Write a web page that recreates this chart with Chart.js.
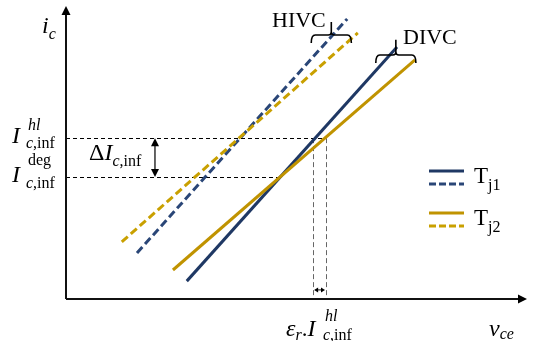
<!DOCTYPE html>
<html><head><meta charset="utf-8">
<script src="https://cdn.jsdelivr.net/npm/chart.js@4"></script>
<style>html,body{margin:0;padding:0;background:#fff}#wrap{width:536px;height:341px;position:relative}</style>
</head><body><div id="wrap"><canvas id="c"></canvas></div>
<script>
// ---- data (schematic units, v_ce on x, i_c on y) ----
const tj1SolidX = [26.2, 71.8]; const tj1SolidY = [6.1, 86.0];   // Tj1, DIVC
const tj1DashX  = [15.4, 61.0]; const tj1DashY  = [15.7, 95.6];  // Tj1, HIVC
const tj2SolidX = [23.2, 75.7]; const tj2SolidY = [9.9, 81.6];   // Tj2, DIVC
const tj2DashX  = [12.1, 63.3]; const tj2DashY  = [19.5, 90.8];  // Tj2, HIVC
const levelNames  = ['hl', 'deg'];
const levelValues = [54.9, 41.6];   // I_c,inf^hl , I_c,inf^deg
const levelEndX   = [56.4, 46.4];
const epsEdgesX   = [53.6, 56.4];   // epsilon_r . I_c,inf^hl band
const legendNames = ['j1', 'j2'];
const bracketNames = ['HIVC', 'DIVC'];

const NAVY = '#1f3864', NAVY_D = '#2a4677', GOLD = '#c09300', GOLD_D = '#c9a000';
const pts = (xs, ys) => xs.map((x, i) => ({x, y: ys[i]}));

const SERIF = '"Liberation Serif", "Times New Roman", serif';
function rich(ctx, x, y, parts) {
  let cx = x;
  for (const p of parts) {
    if (p.x !== undefined) cx = x + p.x;
    ctx.font = (p.it ? 'italic ' : '') + p.s + 'px ' + SERIF;
    ctx.fillText(p.t, cx, y + (p.dy || 0));
    cx += ctx.measureText(p.t).width;
  }
}
function arrowHead(ctx, x, y, dir, len, half) {
  ctx.beginPath();
  ctx.moveTo(x, y);
  if (dir === 'r') { ctx.lineTo(x - len, y - half); ctx.lineTo(x - len, y + half); }
  if (dir === 'l') { ctx.lineTo(x + len, y - half); ctx.lineTo(x + len, y + half); }
  if (dir === 'u') { ctx.lineTo(x - half, y + len); ctx.lineTo(x + half, y + len); }
  if (dir === 'd') { ctx.lineTo(x - half, y - len); ctx.lineTo(x + half, y - len); }
  ctx.closePath(); ctx.fill();
}
function brace(ctx, x1, x2, y, tipY) {
  const xm = (x1 + x2) / 2;
  ctx.beginPath();
  ctx.moveTo(x1, y + 8);
  ctx.quadraticCurveTo(x1, y, x1 + 4, y);
  ctx.lineTo(xm - 3, y);
  ctx.quadraticCurveTo(xm, y, xm, y - 3);
  ctx.lineTo(xm, tipY);
  ctx.moveTo(xm, y - 3);
  ctx.quadraticCurveTo(xm, y, xm + 3, y);
  ctx.lineTo(x2 - 4, y);
  ctx.quadraticCurveTo(x2, y, x2, y + 8);
  ctx.stroke();
}

const under = {
  id: 'under',
  beforeDatasetsDraw(chart) {
    const {ctx, scales: {x, y}} = chart;
    ctx.save();
    ctx.lineWidth = 1;
    ctx.strokeStyle = '#000';
    ctx.setLineDash([4, 3]);
    levelValues.forEach((v, i) => {
      ctx.beginPath();
      ctx.moveTo(x.getPixelForValue(0), Math.round(y.getPixelForValue(v)) + 0.5);
      ctx.lineTo(x.getPixelForValue(levelEndX[i]), Math.round(y.getPixelForValue(v)) + 0.5);
      ctx.stroke();
    });
    ctx.strokeStyle = '#666';
    ctx.setLineDash([5, 3]);
    epsEdgesX.forEach(v => {
      const px = Math.round(x.getPixelForValue(v)) + 0.5;
      ctx.beginPath();
      ctx.moveTo(px, y.getPixelForValue(levelValues[0]));
      ctx.lineTo(px, y.getPixelForValue(0));
      ctx.stroke();
    });
    ctx.restore();
  },
  afterDatasetsDraw(chart) {
    const {ctx, scales: {x, y}} = chart;
    const x0 = x.getPixelForValue(0), y0 = y.getPixelForValue(0);
    const x1 = x.getPixelForValue(100), y1 = y.getPixelForValue(100);
    ctx.save();
    ctx.fillStyle = '#000'; ctx.strokeStyle = '#111';
    ctx.lineWidth = 2;
    ctx.beginPath();
    ctx.moveTo(x0, y0); ctx.lineTo(x1 - 6, y0);
    ctx.moveTo(x0, y0); ctx.lineTo(x0, y1 + 6);
    ctx.stroke();
    arrowHead(ctx, x1, y0, 'r', 9, 4.5);
    arrowHead(ctx, x0, y1, 'u', 9, 4.5);
    ctx.lineWidth = 1;
    const ea = x.getPixelForValue(epsEdgesX[0]), eb = x.getPixelForValue(epsEdgesX[1]);
    const ey = y.getPixelForValue(3.1);
    ctx.beginPath(); ctx.moveTo(ea + 3, ey); ctx.lineTo(eb - 3, ey); ctx.stroke();
    arrowHead(ctx, ea + 1, ey, 'l', 4, 2.5);
    arrowHead(ctx, eb - 1, ey, 'r', 4, 2.5);
    const dx = x.getPixelForValue(19.3);
    const da = y.getPixelForValue(levelValues[0]), db = y.getPixelForValue(levelValues[1]);
    ctx.lineWidth = 1.3;
    ctx.beginPath(); ctx.moveTo(dx, da + 5); ctx.lineTo(dx, db - 5); ctx.stroke();
    arrowHead(ctx, dx, da, 'u', 8, 4);
    arrowHead(ctx, dx, db, 'd', 8, 4);
    ctx.lineWidth = 1.6;
    ctx.strokeStyle = '#000';
    brace(ctx, x.getPixelForValue(53.2), x.getPixelForValue(61.9), y.getPixelForValue(90.1), y.getPixelForValue(94.5));
    brace(ctx, x.getPixelForValue(67.2), x.getPixelForValue(75.9), y.getPixelForValue(83.3), y.getPixelForValue(88.5));
    ctx.textBaseline = 'alphabetic';
    ctx.fillStyle = '#000';
    rich(ctx, 272, 27, [{t: bracketNames[0], s: 22}]);
    rich(ctx, 403, 44, [{t: bracketNames[1], s: 22}]);
    rich(ctx, 42, 33, [{t: 'i', s: 24, it: 1}, {t: 'c', s: 16, it: 1, dy: 6}]);
    rich(ctx, 12, 143, [{t: 'I', s: 24, it: 1}, {x: 16, t: levelNames[0], s: 16, it: 1, dy: -13}]);
    rich(ctx, 12, 148, [{x: 14, t: 'c', s: 16, it: 1}, {t: ',inf', s: 16}]);
    rich(ctx, 12, 182, [{t: 'I', s: 24, it: 1}, {x: 16, t: levelNames[1], s: 16, dy: -17}]);
    rich(ctx, 12, 188, [{x: 14, t: 'c', s: 16, it: 1}, {t: ',inf', s: 16}]);
    rich(ctx, 89, 160, [{t: '\u0394', s: 24}, {t: 'I', s: 24, it: 1}, {t: 'c', s: 16, it: 1, dy: 6}, {t: ',inf', s: 16, dy: 6}]);
    rich(ctx, 286, 336, [{t: '\u03b5', s: 24, it: 1}, {t: 'r', s: 16, it: 1, dy: 4}, {t: '.', s: 23}, {t: 'I', s: 24, it: 1}]);
    rich(ctx, 325, 321, [{t: levelNames[0], s: 16, it: 1}]);
    rich(ctx, 323, 340, [{t: 'c', s: 16, it: 1}, {t: ',inf', s: 16}]);
    rich(ctx, 489, 336, [{t: 'v', s: 24, it: 1}, {t: 'ce', s: 16, it: 1, dy: 3}]);
    const items = [[NAVY, NAVY_D], [GOLD, GOLD_D]];
    const rows = [171, 213];
    items.forEach((c, i) => {
      const r = rows[i];
      ctx.lineWidth = 3;
      ctx.setLineDash([]);
      ctx.strokeStyle = c[0];
      ctx.beginPath(); ctx.moveTo(429, r); ctx.lineTo(464, r); ctx.stroke();
      ctx.strokeStyle = c[1];
      ctx.setLineDash([7, 3]);
      ctx.beginPath(); ctx.moveTo(429, r + 13); ctx.lineTo(464, r + 13); ctx.stroke();
      ctx.setLineDash([]);
      rich(ctx, 474, r + 12, [{t: 'T', s: 23}, {t: legendNames[i], s: 16, dy: 7}]);
    });
    ctx.restore();
  }
};

new Chart(document.getElementById('c'), {
  type: 'scatter',
  data: {
    datasets: [
      {label: 'Tj2 HIVC', data: pts(tj2DashX, tj2DashY), showLine: true, borderColor: GOLD_D, borderWidth: 3, borderDash: [8, 4], pointRadius: 0},
      {label: 'Tj1 HIVC', data: pts(tj1DashX, tj1DashY), showLine: true, borderColor: NAVY_D, borderWidth: 3, borderDash: [8, 4], pointRadius: 0},
      {label: 'Tj2 DIVC', data: pts(tj2SolidX, tj2SolidY), showLine: true, borderColor: GOLD, borderWidth: 3, pointRadius: 0},
      {label: 'Tj1 DIVC', data: pts(tj1SolidX, tj1SolidY), showLine: true, borderColor: NAVY, borderWidth: 3, pointRadius: 0}
    ]
  },
  options: {
    responsive: true, maintainAspectRatio: false, animation: false,
    layout: {padding: {left: 66, right: 9, top: 6, bottom: 42}},
    scales: {
      x: {type: 'linear', min: 0, max: 100, display: false},
      y: {type: 'linear', min: 0, max: 100, display: false}
    },
    plugins: {legend: {display: false}, tooltip: {enabled: false}}
  },
  plugins: [under]
});
</script></body></html>
